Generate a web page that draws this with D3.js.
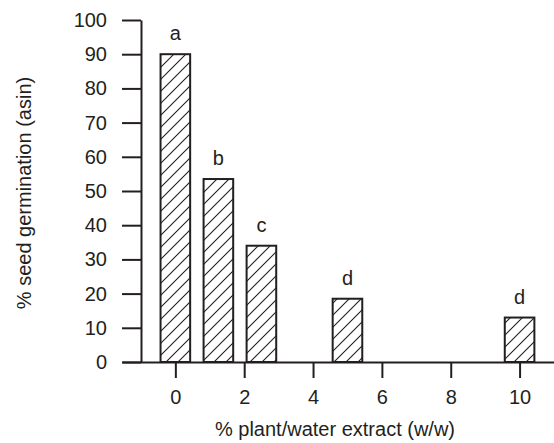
<!DOCTYPE html>
<html>
<head>
<meta charset="utf-8">
<script src="https://cdn.jsdelivr.net/npm/d3@7"></script>
<style>
  body { margin: 0; background: #fff; }
  text { font-family: "Liberation Sans", Arial, sans-serif; fill: #231f20; }
</style>
</head>
<body>
<script>
// data
let concentrations = [0, 1.25, 2.5, 5, 10];
let germination = [90, 53.5, 34, 18.5, 13];
let groupLetters = ['a', 'b', 'c', 'd', 'd'];
let xTicks = [0, 2, 4, 6, 8, 10];
let yTicks = [0, 10, 20, 30, 40, 50, 60, 70, 80, 90, 100];

let svgWidth = 554;
let svgHeight = 443;
let ink = '#231f20';
let fontSize = '20px';

let svg = d3.select('body')
  .append('svg')
  .attr('width', svgWidth)
  .attr('height', svgHeight);

// hatch fill for the bars
let pattern = svg.append('defs').append('pattern')
  .attr('id', 'hatch')
  .attr('patternUnits', 'userSpaceOnUse')
  .attr('width', 12)
  .attr('height', 12);
pattern.append('path')
  .attr('d', 'M0,12 L12,0 M-3,3 L3,-3 M9,15 L15,9')
  .attr('stroke', ink)
  .attr('stroke-width', 1.1);

let xScale = d3.scaleLinear()
  .domain([-1.55, 11])
  .range([122, 554]);
let yScale = d3.scaleLinear()
  .domain([0, 100])
  .range([362, 20]);

let barHalf = 0.43;

let rows = concentrations.map((c, i) => ({ x: c, y: germination[i], label: groupLetters[i] }));

// bars
svg.append('g').selectAll('rect')
  .data(rows)
  .enter()
  .append('rect')
  .attr('x', d => xScale(d.x - barHalf))
  .attr('width', d => xScale(d.x + barHalf) - xScale(d.x - barHalf))
  .attr('y', d => yScale(d.y))
  .attr('height', d => yScale(0) - yScale(d.y))
  .attr('fill', 'url(#hatch)')
  .attr('stroke', ink)
  .attr('stroke-width', 2);

// significance letters
svg.append('g').selectAll('text')
  .data(rows)
  .enter()
  .append('text')
  .attr('x', d => xScale(d.x))
  .attr('y', d => yScale(d.y) - 14)
  .attr('text-anchor', 'middle')
  .style('font-size', fontSize)
  .text(d => d.label);

// axes
let yAxis = d3.axisLeft(yScale)
  .tickValues(yTicks)
  .tickSizeInner(19)
  .tickSizeOuter(0)
  .tickPadding(15);
let xAxis = d3.axisBottom(xScale)
  .tickValues(xTicks)
  .tickSizeInner(16)
  .tickSizeOuter(0)
  .tickPadding(12);

let gy = svg.append('g')
  .attr('transform', 'translate(141,0)')
  .call(yAxis);
let gx = svg.append('g')
  .attr('transform', 'translate(0,362)')
  .call(xAxis);

[gx, gy].forEach(g => {
  g.select('.domain').attr('stroke', ink).attr('stroke-width', 2);
  g.selectAll('.tick line').attr('stroke', ink).attr('stroke-width', 2);
  g.selectAll('.tick text')
    .attr('fill', ink)
    .style('font-family', '"Liberation Sans", Arial, sans-serif')
    .style('font-size', fontSize);
});

// axis titles
svg.append('text')
  .attr('x', 335)
  .attr('y', 436)
  .attr('text-anchor', 'middle')
  .style('font-size', fontSize)
  .text('% plant/water extract (w/w)');
svg.append('text')
  .attr('transform', 'rotate(-90)')
  .attr('x', -193)
  .attr('y', 31)
  .attr('text-anchor', 'middle')
  .style('font-size', fontSize)
  .text('% seed germination (asin)');
</script>
</body>
</html>
